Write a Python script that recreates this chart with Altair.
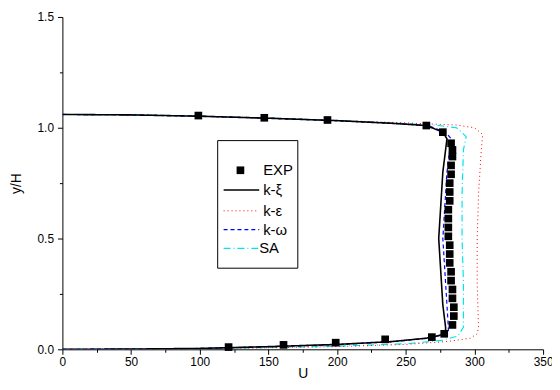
import altair as alt
import pandas as pd

# ---- data ----
exp_u = [99, 147, 193, 265, 277, 283, 284, 284, 283, 283, 282, 282, 282, 281, 281, 281,
         281, 282, 282, 282, 283, 283, 284, 284, 285, 285, 284, 278, 269, 235, 199, 161, 121]
exp_y = [1.055, 1.045, 1.035, 1.01, 0.98, 0.93, 0.90, 0.87, 0.83, 0.79, 0.75, 0.71, 0.67,
         0.63, 0.59, 0.55, 0.51, 0.47, 0.43, 0.39, 0.35, 0.31, 0.27, 0.23, 0.19, 0.15,
         0.11, 0.07, 0.055, 0.045, 0.03, 0.02, 0.01]

kxi_u = [0, 50, 100, 150, 200, 240, 265, 276, 279, 279, 277, 276, 275, 274, 275, 276, 277,
         279, 280, 277, 265, 240, 200, 150, 100, 50, 0]
kxi_y = [0, 0.001, 0.004, 0.012, 0.022, 0.035, 0.05, 0.065, 0.08, 0.1, 0.2, 0.3, 0.4, 0.5,
         0.6, 0.7, 0.8, 0.9, 0.95, 0.98, 1.01, 1.02, 1.032, 1.043, 1.052, 1.058, 1.06]

keps_u = [0, 100, 200, 250, 280, 297, 302, 303, 302, 302, 303, 305, 306, 300, 287, 250, 200,
          150, 100, 50, 0]
keps_y = [0, 0.002, 0.012, 0.022, 0.035, 0.05, 0.07, 0.1, 0.3, 0.5, 0.7, 0.9, 0.97, 1.0,
          1.012, 1.022, 1.033, 1.044, 1.053, 1.058, 1.06]

kom_u = [0, 50, 100, 150, 200, 240, 265, 277, 281, 281, 280, 279, 278, 277, 278, 279, 280,
         282, 283, 279, 266, 240, 200, 150, 100, 50, 0]
kom_y = [0, 0.001, 0.004, 0.012, 0.021, 0.034, 0.05, 0.065, 0.08, 0.1, 0.2, 0.3, 0.4, 0.5,
         0.6, 0.7, 0.8, 0.9, 0.95, 0.98, 1.01, 1.02, 1.032, 1.043, 1.052, 1.058, 1.06]

sa_u = [0, 100, 200, 250, 276, 288, 292, 292, 291, 291, 292, 294, 287, 271, 240, 200, 150,
        100, 50, 0]
sa_y = [0, 0.002, 0.014, 0.025, 0.04, 0.06, 0.1, 0.3, 0.5, 0.7, 0.9, 0.96, 1.0, 1.012,
        1.022, 1.033, 1.044, 1.053, 1.058, 1.06]

series_names = ["k-ξ", "k-ε", "k-ω", "SA"]
series_u = [kxi_u, keps_u, kom_u, sa_u]
series_y = [kxi_y, keps_y, kom_y, sa_y]
series_colors = ["#000000", "#ff0000", "#0000ff", "#00e5ee"]
series_dash = [[1, 0], [1, 3], [4, 3], [7, 3, 1, 3]]
series_width = [1.6, 1.0, 1.2, 1.2]

x_ticks = list(range(0, 351, 25))
y_ticks = [0, 0.25, 0.5, 0.75, 1.0, 1.25, 1.5]

FONT = "Liberation Sans"
W, H = 486, 336

rows = []
for name, us, ys in zip(series_names, series_u, series_y):
    for i, (u, y) in enumerate(zip(us, ys)):
        rows.append({"series": name, "U": u, "y": y, "i": i})
lines_df = pd.DataFrame(rows)
exp_df = pd.DataFrame({"U": exp_u, "y": exp_y})

xs = alt.Scale(domain=[0, 350], nice=False, zero=False)
ys_ = alt.Scale(domain=[0, 1.5], nice=False, zero=False)

x_axis = alt.Axis(
    title="U", values=x_ticks,
    labelExpr="datum.value % 50 === 0 ? datum.label : ''",
    tickSize={"condition": {"test": "datum.value % 50 === 0", "value": 5}, "value": 3},
    grid=False, domainColor="black", tickColor="black", labelColor="black",
    labelFont=FONT, labelFontSize=12, labelPadding=2, labelFlush=False,
    titleFont=FONT, titleFontSize=14, titleFontWeight="normal", titlePadding=0,
    titleColor="black",
)
y_axis = alt.Axis(
    title="y/H", values=y_ticks, format=".1f",
    labelExpr="(datum.value * 4) % 2 === 0 ? datum.label : ''",
    tickSize={"condition": {"test": "(datum.value * 4) % 2 === 0", "value": 5}, "value": 3},
    grid=False, domainColor="black", tickColor="black", labelColor="black",
    labelFont=FONT, labelFontSize=12, labelPadding=4, labelFlush=False,
    titleFont=FONT, titleFontSize=14, titleFontWeight="normal", titlePadding=14,
    titleColor="black",
)

X = alt.X("U:Q", scale=xs, axis=x_axis)
Y = alt.Y("y:Q", scale=ys_, axis=y_axis)

layers = []
for idx in [3, 1, 2, 0]:  # draw order: cyan, red, blue, black on top
    name = series_names[idx]
    sub = lines_df[lines_df.series == name]
    layers.append(
        alt.Chart(sub).mark_line(
            color=series_colors[idx], strokeDash=series_dash[idx],
            strokeWidth=series_width[idx], clip=True,
        ).encode(x=X, y=Y, order="i:Q")
    )

points = alt.Chart(exp_df).mark_point(
    shape="square", filled=True, color="black", size=60, opacity=1
).encode(x=X, y=Y)

# ---- legend (manual box) ----
one = pd.DataFrame({"a": [0]})
box = alt.Chart(one).mark_rect(fill="white", stroke="black", strokeWidth=1).encode(
    x=alt.value(157), x2=alt.value(238), y=alt.value(125), y2=alt.value(254))
leg = [box]
leg.append(alt.Chart(one).mark_point(shape="square", filled=True, color="black",
                                     size=60, opacity=1).encode(
    x=alt.value(180), y=alt.value(155)))
leg.append(alt.Chart(one).mark_text(text="EXP", align="left", baseline="middle",
                                    font=FONT, fontSize=15, color="black").encode(
    x=alt.value(203), y=alt.value(155)))
row_y = [175, 196, 215, 234]
text_x = [203, 203, 203, 199]
for k, name in enumerate(series_names):
    leg.append(alt.Chart(one).mark_rule(
        color=series_colors[k], strokeDash=series_dash[k], strokeWidth=series_width[k]
    ).encode(x=alt.value(163), x2=alt.value(199), y=alt.value(row_y[k])))
    leg.append(alt.Chart(one).mark_text(text=name, align="left", baseline="middle",
                                        font=FONT, fontSize=15, color="black").encode(
        x=alt.value(text_x[k]), y=alt.value(row_y[k])))

chart = alt.layer(*layers, points, *leg).properties(
    width=W, height=H, background="white",
    autosize=alt.AutoSizeParams(type="none"),
    padding={"left": 55, "top": 7, "right": 9, "bottom": 32},
).configure_view(stroke=None)

chart.save("out.html", embed_options={"renderer": "svg", "actions": False})
